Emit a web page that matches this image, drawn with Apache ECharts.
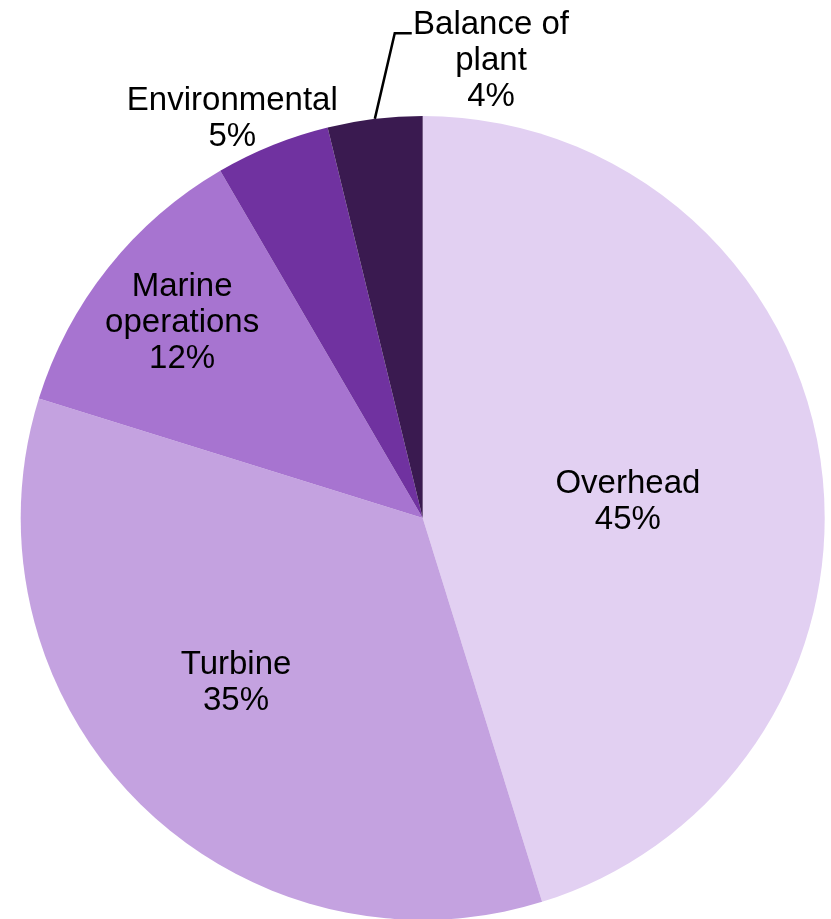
<!DOCTYPE html>
<html>
<head>
<meta charset="utf-8">
<style>
  html, body { margin: 0; padding: 0; background: #ffffff; }
  #chart { width: 831px; height: 919px; }
</style>
<script src="https://cdn.jsdelivr.net/npm/echarts@6/dist/echarts.min.js"></script>
</head>
<body>
<div id="chart"></div>
<script>
// Cost breakdown categories, clockwise from 12 o'clock
const categories = ['Overhead', 'Turbine', 'Marine operations', 'Environmental', 'Balance of plant'];
// Label text (with the line breaks used on the chart)
const labelNames = ['Overhead', 'Turbine', 'Marine\noperations', 'Environmental', 'Balance of\nplant'];
// Share of total cost (%)
const shares = [45.2, 34.6, 11.8, 4.6, 3.8];
// Slice fills, light to dark purple
const colors = ['#E2D0F2', '#C4A2E0', '#A774D0', '#7032A0', '#3A1A50'];

const total = shares.reduce((a, b) => a + b, 0);

const CX = 422.7, CY = 518, R = 402;

// Label anchors in polar terms: angle clockwise from top (deg), distance as a fraction of the radius
const labelSpots = [
  { angle: 85.5, frac: 0.512 },
  { angle: 228.5, frac: 0.62 },
  { angle: 309, frac: 0.77 },
  { angle: 334.5, frac: 1.10 },
  { angle: 8.5, frac: 1.15 }
];

function polar(angle, dist) {
  const a = angle * Math.PI / 180;
  return [CX + dist * Math.sin(a), CY - dist * Math.cos(a)];
}

// Angle at the middle of each slice, from the shares
const midAngles = [];
(function () {
  let acc = 0;
  shares.forEach(v => {
    const sweep = v / total * 360;
    midAngles.push(acc + sweep / 2);
    acc += sweep;
  });
})();

const chart = echarts.init(document.getElementById('chart'), null, { renderer: 'canvas' });

const data = categories.map((name, i) => ({
  name: name,
  value: shares[i],
  itemStyle: { color: colors[i] },
  label: { position: i === 4 ? 'outside' : 'inside' },
  labelLine: { show: i === 4 }
}));

chart.setOption({
  animation: false,
  series: [{
    type: 'pie',
    center: [CX, CY],
    radius: R,
    startAngle: 90,
    clockwise: true,
    avoidLabelOverlap: false,
    silent: true,
    data: data,
    itemStyle: { borderWidth: 0 },
    label: {
      show: true,
      color: '#000000',
      fontFamily: '"Liberation Sans", Arial, sans-serif',
      fontSize: 33,
      lineHeight: 36,
      align: 'center',
      formatter: function (p) {
        return labelNames[p.dataIndex] + '\n' + Math.round(p.value / total * 100) + '%';
      }
    },
    labelLine: {
      lineStyle: { color: '#000000', width: 2.5 }
    },
    labelLayout: function (params) {
      const i = params.dataIndex;
      const spot = labelSpots[i];
      const pos = polar(spot.angle, spot.frac * R);
      const out = { x: pos[0], y: pos[1], align: 'center', verticalAlign: 'middle' };
      if (i === 4) {
        const start = polar(midAngles[i], R);
        const elbow = polar(356.7, 1.208 * R);
        out.labelLinePoints = [start, elbow, [elbow[0] + 17, elbow[1]]];
      }
      return out;
    }
  }]
});
</script>
</body>
</html>
